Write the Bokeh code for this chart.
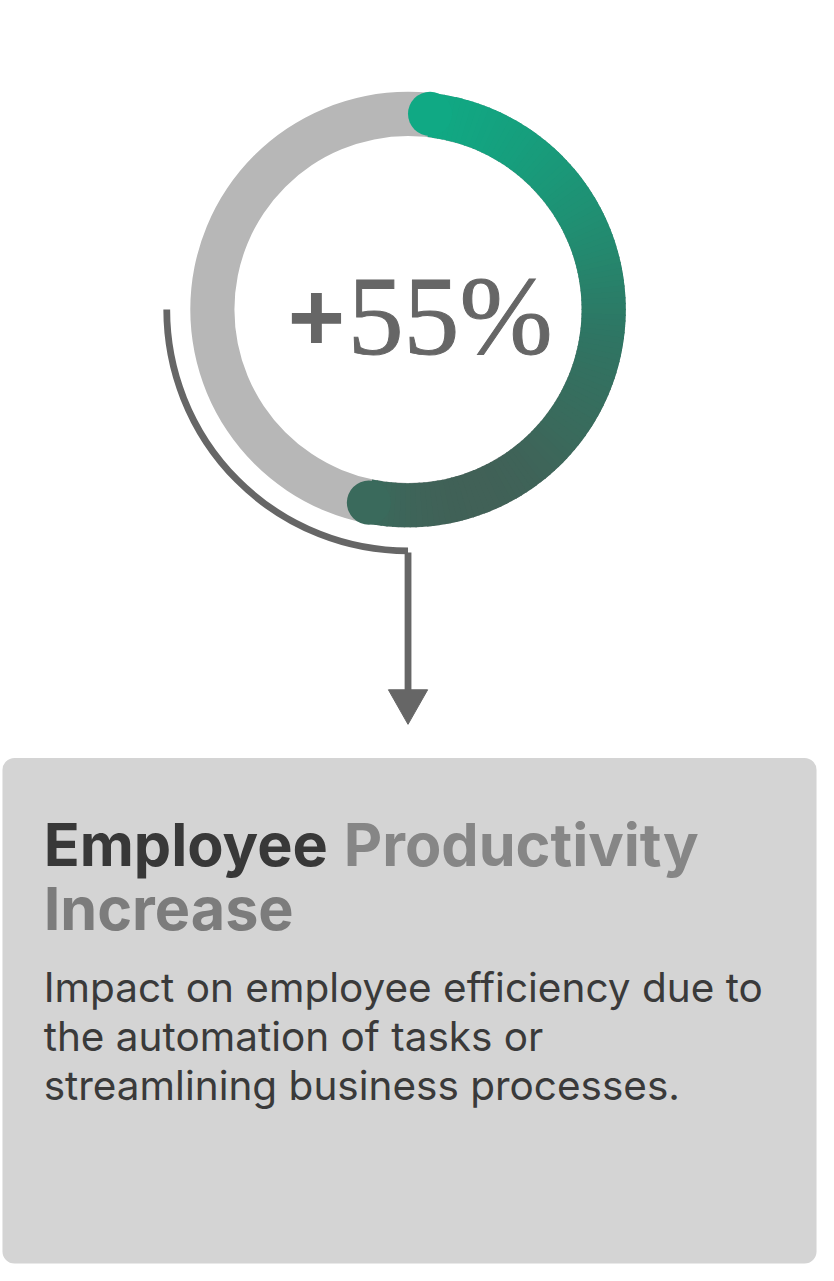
import numpy as np
from bokeh.plotting import figure
from bokeh.models import Range1d, BoxAnnotation
from bokeh.core.properties import value
from bokeh.embed import file_html
from bokeh.resources import INLINE

# --- data ---
percent = [55]
metric_sign = ["+"]
metric_value = ["55%"]
title_words = ["Employee", "Productivity", "Increase"]
body_lines = [
    "Impact on employee efficiency due to",
    "the automation of tasks or",
    "streamlining business processes.",
]

# design is laid out in a 834 x 1281 space, drawn into an 818 x 1265 figure
RW, RH = 834, 1281
W, H = 818, 1265
S = W / RW


def fs(size):
    return "%.1fpx" % (size * S)


def py(Y):
    # layout y (down) -> data y (up)
    return RH - Y


# ring geometry
CXi, CYi = 415.5, 313
R_OUT, R_IN = 222, 177
R_MID = (R_OUT + R_IN) / 2
CAP = (R_OUT - R_IN) / 2

# green -> dark grey gradient stops, along a slanted direction
grad_pos = [260, 445, 535, 611, 680]
grad_rgb = [(16, 169, 132), (35, 138, 111), (47, 117, 99), (58, 106, 92), (74, 84, 80)]


def grad_color(theta):
    X = CXi + R_MID * np.sin(theta)
    Y = CYi - R_MID * np.cos(theta)
    t = 0.35 * X + 0.94 * Y
    rgb = [int(round(np.interp(t, grad_pos, [c[i] for c in grad_rgb]))) for i in range(3)]
    return "#%02x%02x%02x" % tuple(rgb)


p = figure(width=W, height=H, x_range=Range1d(0, RW), y_range=Range1d(0, RH),
           output_backend="svg", toolbar_location=None, min_border=0,
           x_axis_location=None, y_axis_location=None)
p.grid.visible = False
p.outline_line_color = None
p.background_fill_color = "white"
p.border_fill_color = "white"

CX, CY = CXi, py(CYi)

# grey track
p.annulus(x=[CX], y=[CY], inner_radius=R_IN, outer_radius=R_OUT,
          fill_color="#b7b7b7", line_color=None)

# progress arc, clockwise from 12 o'clock, round caps included in the sweep
sweep = np.radians(percent[0] / 100 * 360)
cap_ang = CAP / R_MID
n = 120
edges = np.linspace(cap_ang, sweep - cap_ang, n + 1)
eps = np.radians(0.4)
starts, ends, cols = [], [], []
for a, b in zip(edges[:-1], edges[1:]):
    starts.append(np.pi / 2 - b - eps)
    ends.append(np.pi / 2 - a)
    cols.append(grad_color((a + b) / 2))
p.annular_wedge(x=CX, y=CY, inner_radius=R_IN, outer_radius=R_OUT,
                start_angle=starts, end_angle=ends, direction="anticlock",
                fill_color=cols, line_color=None)

cap_t = [cap_ang, sweep - cap_ang]
p.circle(x=[CX + R_MID * np.sin(t) for t in cap_t],
         y=[CY + R_MID * np.cos(t) for t in cap_t],
         radius=CAP, fill_color=[grad_color(t) for t in cap_t], line_color=None)

# big number (baselines nudged up: text renders lower than its anchor)
p.text(x=[322], y=[py(356 - 36)], text=metric_sign, text_font=value("Liberation Sans"),
       text_font_style="bold", text_font_size=fs(100), text_color="#666666",
       text_align="center", text_baseline="alphabetic")
p.text(x=[354], y=[py(359 - 40)], text=metric_value, text_font=value("Liberation Serif"),
       text_font_size=fs(114), text_color="#666666", text_outline_color="#666666",
       text_align="left", text_baseline="alphabetic")

# connector arc + arrow
R_CON = 246
LINE = "#666666"
p.arc(x=[CX], y=[CY], radius=R_CON, start_angle=np.pi, end_angle=1.5 * np.pi,
      line_color=LINE, line_width=6.8)
p.segment(x0=[CX], y0=[CY - R_CON], x1=[CX], y1=[py(702)], line_color=LINE, line_width=6.8)
p.patch(x=[CX - 20, CX + 20, CX], y=[py(698), py(698), py(733)],
        fill_color=LINE, line_color=LINE, line_width=1)

# card
card = BoxAnnotation(left=2, right=832, bottom=py(1279), top=py(767), fill_color="#d4d4d4",
                     fill_alpha=1, line_color=None, border_radius=12, level="underlay")
p.add_layout(card)

title_x = [44, 350, 44]
title_y = [py(878 - 23), py(878 - 23), py(942 - 23)]
title_colors = ["#383838", "#868686", "#7c7c7c"]
p.text(x=title_x, y=title_y, text=title_words, text_font=value("Inter"),
       text_font_style="bold", text_font_size=fs(60.5), text_color=title_colors,
       text_align="left", text_baseline="alphabetic")

p.text(x=[44] * 3, y=[py(1017 - 18), py(1067 - 18), py(1117 - 18)], text=body_lines,
       text_font=value("Inter"), text_font_size=fs(41.3), text_color="#3a3a3a",
       text_align="left", text_baseline="alphabetic")

open("out.html", "w").write(file_html(p, INLINE))
